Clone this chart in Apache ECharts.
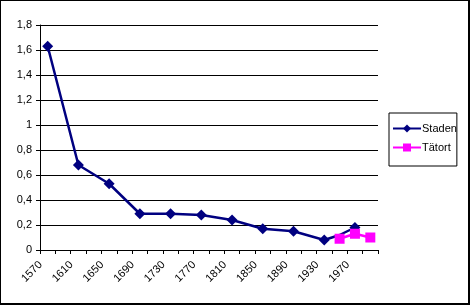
<!DOCTYPE html>
<html>
<head>
<meta charset="utf-8">
<style>
html,body{margin:0;padding:0;background:#fff;}
#chart{width:470px;height:305px;}
</style>
<script src="https://cdn.jsdelivr.net/npm/echarts@6/dist/echarts.min.js"></script>
</head>
<body>
<div id="chart"></div>
<script>
// Categories every 20 years (labels shown every other one)
const years = ['1570','1590','1610','1630','1650','1670','1690','1710','1730','1750','1770','1790','1810','1830','1850','1870','1890','1910','1930','1950','1970','1990'];
const stadenValues = [1.63,null,0.68,null,0.53,null,0.29,null,0.29,null,0.28,null,0.24,null,0.17,null,0.15,null,0.08,0.12,0.18,null];
const tatortValues = [null,null,null,null,null,null,null,null,null,null,null,null,null,null,null,null,null,null,null,0.09,0.13,0.10];
const yTicks = ['0','0,2','0,4','0,6','0,8','1','1,2','1,4','1,6','1,8'];

const font = '"Liberation Sans", Arial, sans-serif';
const chart = echarts.init(document.getElementById('chart'), null, {renderer:'canvas'});
chart.setOption({
  animation:false,
  backgroundColor:'#ffffff',
  grid:{left:40, top:25, width:338, height:225, containLabel:false},
  xAxis:{
    type:'category',
    data:years,
    boundaryGap:true,
    axisLine:{lineStyle:{color:'#000',width:1}},
    axisTick:{show:true, interval:0, length:4, lineStyle:{color:'#000'}},
    axisLabel:{interval:1, rotate:45, color:'#000', fontSize:11, fontFamily:font, margin:6, padding:[0,10,0,0]},
    splitLine:{show:false}
  },
  yAxis:{
    type:'value',
    min:0, max:1.8, interval:0.2,
    axisLine:{show:true, lineStyle:{color:'#000',width:1}},
    axisTick:{show:true, length:4, lineStyle:{color:'#000'}},
    axisLabel:{color:'#000', fontSize:11, fontFamily:font, margin:8,
      formatter:function(v){ return yTicks[Math.round(v/0.2)]; }},
    splitLine:{show:true, lineStyle:{color:'#000', width:1}}
  },
  legend:{
    orient:'vertical',
    left:389, top:113,
    padding:[10,0,13,3],
    itemGap:8,
    itemWidth:28, itemHeight:10,
    borderColor:'#000', borderWidth:1,
    textStyle:{color:'#000', fontSize:11, fontFamily:font, padding:[0,0,0,-4]},
    data:['Staden','Tätort']
  },
  series:[
    {name:'Staden', type:'line', data:stadenValues, connectNulls:true,
     symbol:'diamond', symbolSize:11, color:'#000080',
     lineStyle:{color:'#000080', width:2.5}, itemStyle:{color:'#000080'}},
    {name:'Tätort', type:'line', data:tatortValues, connectNulls:true,
     symbol:'rect', symbolSize:10, color:'#ff00ff',
     lineStyle:{color:'#ff00ff', width:2.5}, itemStyle:{color:'#ff00ff'}}
  ],
  graphic:[
    {type:'rect', shape:{x:0,y:0,width:470,height:1}, style:{fill:'#000'}},
    {type:'rect', shape:{x:0,y:0,width:1,height:305}, style:{fill:'#000'}},
    {type:'rect', shape:{x:468,y:0,width:2,height:305}, style:{fill:'#000'}},
    {type:'rect', shape:{x:0,y:303,width:470,height:2}, style:{fill:'#000'}}
  ]
});
</script>
</body>
</html>
